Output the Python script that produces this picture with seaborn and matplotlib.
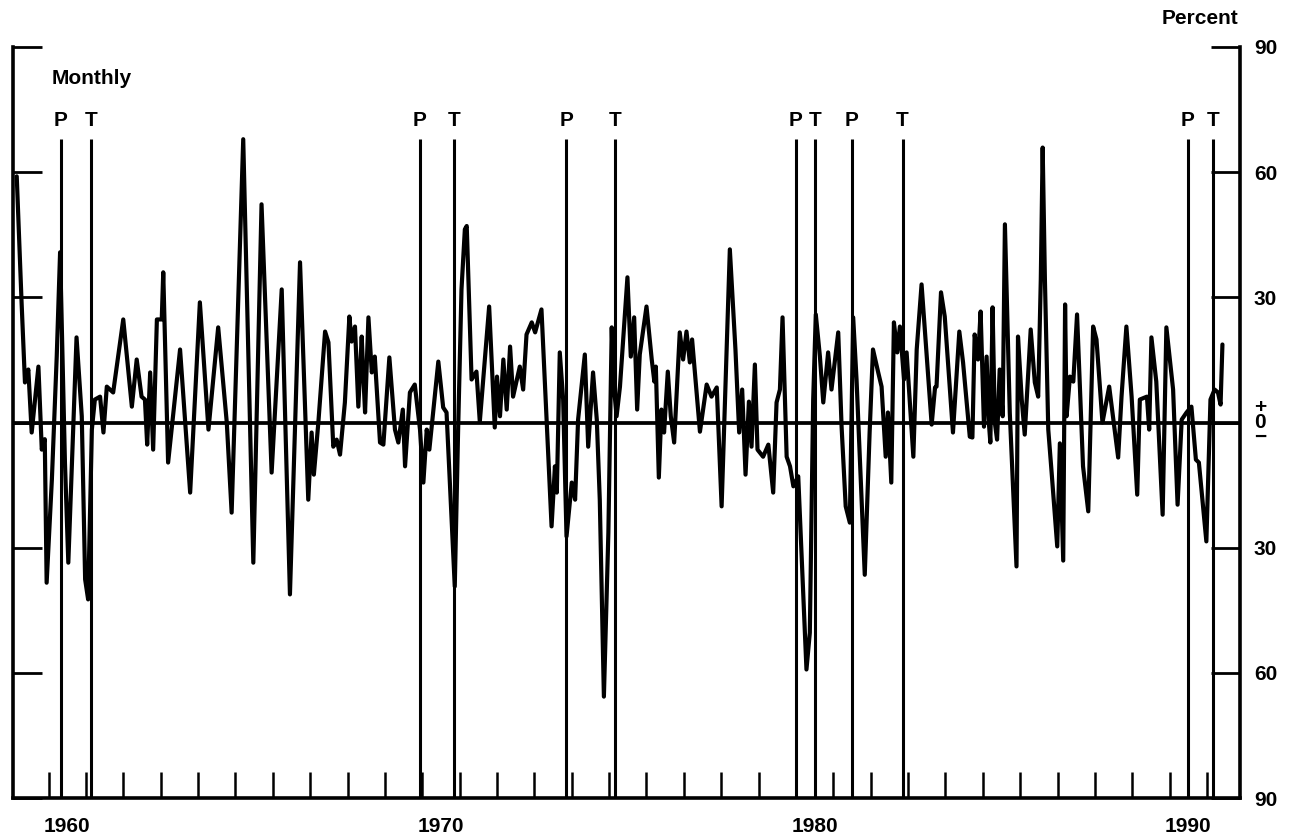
import matplotlib
matplotlib.use("Agg")
import matplotlib.pyplot as plt
import seaborn as sns
import pandas as pd

# ---------------- data ----------------
years = [
    1959.15, 1959.28, 1959.37, 1959.46, 1959.55, 1959.73, 1959.82, 1959.90, 1959.95,
    1960.09, 1960.22, 1960.31, 1960.44, 1960.53, 1960.75, 1960.89, 1960.98, 1961.06,
    1961.16, 1961.24, 1961.38, 1961.47, 1961.56, 1961.73, 1962.00, 1962.23, 1962.36,
    1962.49, 1962.58, 1962.64, 1962.72, 1962.80, 1962.90, 1963.03, 1963.07, 1963.20,
    1963.52, 1963.79, 1964.05, 1964.28, 1964.54, 1964.77, 1964.90, 1965.21, 1965.48,
    1965.70, 1965.97, 1966.24, 1966.46, 1966.73, 1966.95, 1967.04, 1967.10, 1967.22,
    1967.40, 1967.49, 1967.62, 1967.71, 1967.80, 1967.93, 1968.05, 1968.11, 1968.20,
    1968.29, 1968.38, 1968.42, 1968.47, 1968.56, 1968.65, 1968.73, 1968.87, 1968.96,
    1969.12, 1969.27, 1969.36, 1969.48, 1969.54, 1969.67, 1969.80, 1969.94, 1970.03,
    1970.12, 1970.19, 1970.29, 1970.43, 1970.56, 1970.65, 1970.87, 1970.96, 1971.05,
    1971.14, 1971.19, 1971.32, 1971.45, 1971.54, 1971.79, 1971.94, 1972.00, 1972.08,
    1972.17, 1972.26, 1972.35, 1972.43, 1972.61, 1972.70, 1972.79, 1972.93, 1973.02,
    1973.19, 1973.33, 1973.46, 1973.55, 1973.60, 1973.68, 1973.77, 1973.86, 1974.00,
    1974.09, 1974.17, 1974.35, 1974.44, 1974.57, 1974.67, 1974.75, 1974.86, 1974.98,
    1975.07, 1975.11, 1975.20, 1975.29, 1975.49, 1975.58, 1975.67, 1975.75, 1975.82,
    1976.00, 1976.14, 1976.21, 1976.25, 1976.33, 1976.40, 1976.47, 1976.57, 1976.65,
    1976.74, 1976.89, 1976.98, 1977.07, 1977.16, 1977.22, 1977.43, 1977.61, 1977.74,
    1977.88, 1978.01, 1978.23, 1978.38, 1978.48, 1978.56, 1978.65, 1978.74, 1978.81,
    1978.90, 1978.97, 1979.12, 1979.26, 1979.39, 1979.48, 1979.57, 1979.64, 1979.75,
    1979.84, 1979.93, 1980.06, 1980.28, 1980.37, 1980.46, 1980.53, 1980.64, 1980.73,
    1980.86, 1980.95, 1981.13, 1981.22, 1981.33, 1981.44, 1981.53, 1981.62, 1981.84,
    1981.97, 1982.06, 1982.20, 1982.29, 1982.40, 1982.46, 1982.55, 1982.62, 1982.71,
    1982.78, 1982.89, 1982.96, 1983.14, 1983.23, 1983.36, 1983.63, 1983.72, 1983.76,
    1983.88, 1983.98, 1984.20, 1984.37, 1984.47, 1984.65, 1984.72, 1984.78, 1984.87,
    1984.94, 1985.03, 1985.10, 1985.16, 1985.20, 1985.26, 1985.32, 1985.38, 1985.45,
    1985.53, 1985.59, 1985.72, 1985.90, 1985.94, 1986.04, 1986.12, 1986.28, 1986.39,
    1986.48, 1986.55, 1986.60, 1986.66, 1986.75, 1986.84, 1986.99, 1987.06, 1987.15,
    1987.20, 1987.24, 1987.33, 1987.42, 1987.52, 1987.68, 1987.82, 1987.95, 1988.04,
    1988.20, 1988.38, 1988.62, 1988.71, 1988.84, 1988.98, 1989.13, 1989.20, 1989.34,
    1989.39, 1989.45, 1989.51, 1989.64, 1989.81, 1989.91, 1990.09, 1990.21, 1990.32,
    1990.45, 1990.58, 1990.70, 1990.78, 1990.98, 1991.09, 1991.20, 1991.29, 1991.36,
    1991.41,
]
growth = [
    59.0, 28.7, 9.6, 12.7, -2.4, 13.4, -6.5, -4.0, -38.4,
    -13.7, 15.8, 40.8, -9.6, -33.6, 20.4, 1.5, -37.6, -42.4,
    -1.7, 5.5, 6.2, -2.4, 8.6, 7.2, 24.7, 3.8, 15.1,
    6.2, 5.5, -5.3, 12.0, -6.5, 24.7, 24.7, 36.0, -9.6,
    17.5, -16.8, 28.8, -1.7, 22.8, 0.0, -21.6, 67.9, -33.6,
    52.3, -12.0, 31.9, -41.2, 38.4, -18.5, -2.4, -12.5, 0.0,
    21.8, 19.2, -5.8, -4.1, -7.7, 4.8, 25.4, 19.4, 23.0,
    3.8, 20.6, 12.0, 2.4, 25.2, 12.0, 15.8, -4.8, -5.3,
    15.6, -1.7, -4.8, 3.1, -10.5, 7.2, 9.1, -1.7, -14.4,
    -1.7, -6.5, 2.4, 14.6, 3.6, 2.4, -39.3, -1.7, 31.9,
    46.3, 47.1, 10.3, 12.2, 0.2, 27.8, -1.2, 11.0, 1.5,
    15.1, 3.1, 18.2, 6.2, 13.4, 7.9, 21.1, 24.0, 21.6,
    27.1, 0.2, -24.9, -10.5, -16.8, 16.8, 5.5, -27.3, -14.4,
    -18.5, 0.7, 16.3, -5.8, 12.0, 0.7, -18.5, -65.7, -26.4,
    22.8, 10.3, 1.5, 8.6, 34.8, 15.8, 25.2, 3.1, 16.3,
    27.8, 15.1, 9.8, 13.4, -13.2, 3.1, -2.4, 12.2, 1.5,
    -4.8, 21.6, 15.1, 21.8, 14.4, 19.9, -2.2, 9.1, 6.2,
    8.4, -20.1, 41.5, 17.5, -2.4, 7.9, -12.5, 5.0, -5.8,
    13.9, -6.5, -8.2, -5.3, -16.8, 4.8, 7.9, 25.2, -8.2,
    -10.5, -15.3, -12.9, -59.2, -50.4, 5.5, 25.9, 15.8, 4.8,
    16.8, 7.9, 21.6, -1.0, -20.1, -24.0, 25.2, 10.3, -36.5,
    -2.4, 17.5, 12.0, 8.6, -8.2, 2.4, -14.4, 24.0, 16.8,
    23.0, 10.3, 16.8, -8.2, 17.5, 33.1, -0.5, 8.4, 8.6,
    31.2, 25.4, -2.4, 21.8, 14.4, -3.4, -3.6, 21.1, 15.1,
    26.6, -1.0, 15.8, 0.0, -4.8, 27.6, 0.0, -4.1, 12.7,
    1.5, 47.5, 2.4, -34.5, 20.6, 5.5, -2.9, 22.3, 9.6,
    6.2, 34.3, 65.9, 34.3, -1.7, -12.0, -29.7, -5.0, -33.1,
    28.3, 1.5, 11.0, 9.8, 25.9, -10.5, -21.3, 23.0, 19.9,
    0.0, 8.6, -8.4, 6.2, 23.0, 6.2, -17.3, 5.5, 6.0,
    6.2, -1.7, 20.4, 9.8, -22.1, 22.8, 7.9, -19.7, 0.7,
    2.4, 3.8, -8.9, -9.6, -28.5, 5.5, 7.9, 7.2, 4.3,
    18.7,
]
cycle_dates = [1960.33, 1961.15, 1969.93, 1970.86, 1973.85, 1975.17,
               1980.00, 1980.50, 1981.50, 1982.85, 1990.48, 1991.17]
cycle_labels = ["P", "T", "P", "T", "P", "T", "P", "T", "P", "T", "P", "T"]
year_ticks = list(range(1960, 1992))
decade_labels = ["1960", "1970", "1980", "1990"]
y_ticks = [-90, -60, -30, 0, 30, 60, 90]
y_tick_labels = ["90", "60", "30", "+\n0\n\u2212", "30", "60", "90"]

df = pd.DataFrame({"year": years, "growth": growth})

# ---------------- figure ----------------
sns.set_theme(style="white")
plt.rcParams["font.family"] = ["Liberation Sans", "DejaVu Sans"]
plt.rcParams["font.weight"] = "bold"
plt.rcParams["text.color"] = "black"
plt.rcParams["xtick.color"] = "black"
plt.rcParams["ytick.color"] = "black"
plt.rcParams["xtick.labelcolor"] = "black"
plt.rcParams["ytick.labelcolor"] = "black"
FS = 15

fig = plt.figure(figsize=(13, 8.39), dpi=100)
ax = fig.add_axes([13 / 1300, 1 - 798 / 839, (1240 - 13) / 1300, (798 - 47) / 839])

sns.lineplot(data=df, x="year", y="growth", ax=ax, color="black",
             linewidth=3.0, sort=False, estimator=None, zorder=3)
ax.axhline(0, color="black", linewidth=2.7, zorder=2)
ax.vlines(cycle_dates, -90, 68, color="black", linewidth=2.2, zorder=2)
for d, lab in zip(cycle_dates, cycle_labels):
    ax.text(d, 72.5, lab, ha="center", va="center", fontsize=FS,
            fontweight="bold", color="black")

ax.set_xlim(1959.05, 1991.88)
ax.set_ylim(-90, 90)
ax.set_xlabel("")
ax.set_ylabel("")

for side in ["left", "right", "bottom"]:
    ax.spines[side].set_visible(True)
    ax.spines[side].set_color("black")
    ax.spines[side].set_linewidth(2.6)
ax.spines["top"].set_visible(False)

# x axis: year ticks inward, decade labels centred on the year
ax.set_xticks([int(s) + 0.5 for s in decade_labels])
ax.set_xticklabels(decade_labels, fontweight="bold", color="black")
ax.set_xticks(year_ticks, minor=True)
ax.tick_params(axis="x", which="major", length=0, pad=14, labelsize=FS,
               labelcolor="black")
ax.tick_params(axis="x", which="minor", direction="in", length=19, width=1.8,
               color="black", bottom=True)

# y axis: ticks both sides, labels on the right only
ax.set_yticks(y_ticks)
ax.set_yticklabels(y_tick_labels, fontweight="bold", color="black")
ax.set_yticks([90], minor=True)
ax.tick_params(axis="y", which="major", direction="in", length=21, width=2.0,
               color="black", left=True, right=True, labelleft=False,
               labelright=True, pad=10, labelsize=FS, labelcolor="black")
ax.tick_params(axis="y", which="minor", direction="in", length=29, width=2.6,
               color="black", left=True, right=True, labelleft=False,
               labelright=False)
for t in ax.get_yticklabels():
    t.set_linespacing(0.75)

ax.grid(False)

fig.text(1238 / 1300, 1 - 18 / 839, "Percent", ha="right", va="center",
         fontsize=FS, fontweight="bold", color="black")
fig.text(52 / 1300, 1 - 79 / 839, "Monthly", ha="left", va="center",
         fontsize=FS, fontweight="bold", color="black")

fig.savefig("out.png", dpi=100, facecolor="white")
